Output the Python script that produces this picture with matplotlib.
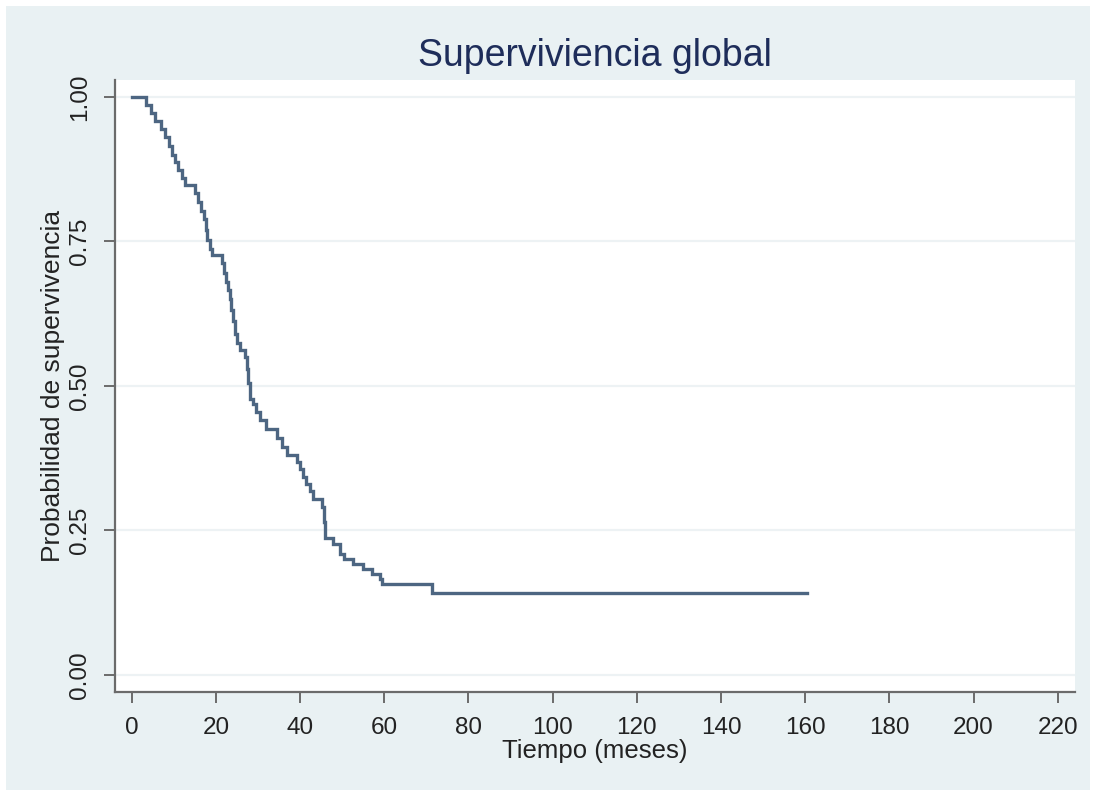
import matplotlib
matplotlib.use("Agg")
import matplotlib.pyplot as plt
from matplotlib.patches import Rectangle

# Kaplan-Meier steps (months, survival)
step_times = [0, 3.5, 4.5, 5.5, 7.0, 8.0, 8.8, 9.5, 10.3, 11.0, 12.0, 12.7,
              15.0, 15.8, 16.5, 17.2, 17.6, 18.0, 18.5, 19.0, 21.4, 22.0,
              22.5, 22.9, 23.3, 23.7, 24.1, 24.6, 25.1, 25.7, 26.9, 27.3,
              27.7, 28.1, 28.8, 29.5, 30.5, 32.0, 34.5, 35.7, 36.8, 39.2,
              40.0, 40.6, 41.5, 42.3, 43.1, 45.1, 45.6, 46.0, 47.8, 49.5,
              50.5, 52.5, 55.0, 57.0, 59.0, 59.5, 71.4, 160.5]
survival = [1.0, 0.986, 0.972, 0.958, 0.944, 0.930, 0.915, 0.900, 0.887,
            0.873, 0.860, 0.847, 0.833, 0.818, 0.803, 0.788, 0.770, 0.752,
            0.737, 0.726, 0.712, 0.695, 0.680, 0.666, 0.650, 0.631, 0.612,
            0.590, 0.575, 0.562, 0.550, 0.530, 0.505, 0.478, 0.468, 0.455,
            0.441, 0.426, 0.410, 0.395, 0.380, 0.369, 0.356, 0.343, 0.330,
            0.318, 0.305, 0.291, 0.265, 0.237, 0.226, 0.210, 0.200, 0.192,
            0.184, 0.175, 0.166, 0.157, 0.141, 0.141]

x_ticks = list(range(0, 221, 20))
y_ticks = [0.0, 0.25, 0.5, 0.75, 1.0]
y_tick_labels = ["0.00", "0.25", "0.50", "0.75", "1.00"]

plt.rcParams['font.family'] = ['Liberation Sans', 'DejaVu Sans']

BG = '#e9f1f3'
LINE = '#4d6682'
AXIS = '#6b6b6b'

fig = plt.figure(figsize=(10.96, 7.96), dpi=100, facecolor='white')
# Stata-like outer graph region with a thin white margin
fig.patches.append(Rectangle((6 / 1096, 6 / 796), 1 - 12 / 1096, 1 - 12 / 796,
                             transform=fig.transFigure, facecolor=BG,
                             edgecolor='none', zorder=-10))

ax = fig.add_axes([115 / 1096, 1 - 692 / 796, 960 / 1096, 612 / 796])
ax.set_facecolor('white')

ax.plot(step_times, survival, drawstyle='steps-post', color=LINE, lw=2.4,
        solid_joinstyle='miter')

ax.set_xlim(-3.97, 224.1)
ax.set_ylim(-0.0294, 1.029)

ax.set_xticks(x_ticks)
ax.set_yticks(y_ticks)
ax.set_yticklabels(y_tick_labels, rotation=90, va='center')

for y in y_ticks:
    ax.axhline(y, color='#edf2f4', lw=1.6, zorder=0)

for side in ['top', 'right']:
    ax.spines[side].set_visible(False)
for side in ['left', 'bottom']:
    ax.spines[side].set_color(AXIS)
    ax.spines[side].set_linewidth(1.6)

ax.tick_params(axis='both', colors=AXIS, length=8, width=1.4, labelsize=17.5,
               labelcolor='#222222')
ax.tick_params(axis='x', pad=10)
ax.tick_params(axis='y', pad=9)

ax.set_xlabel('Tiempo (meses)', fontsize=18.5, color='#222222', labelpad=0)
ax.set_ylabel('Probabilidad de supervivencia', fontsize=19, color='#222222',
              labelpad=3)
ax.set_title('Superviviencia global', fontsize=27, color='#1e2d5a', pad=10)

fig.savefig('out.png', dpi=100, facecolor=fig.get_facecolor())
